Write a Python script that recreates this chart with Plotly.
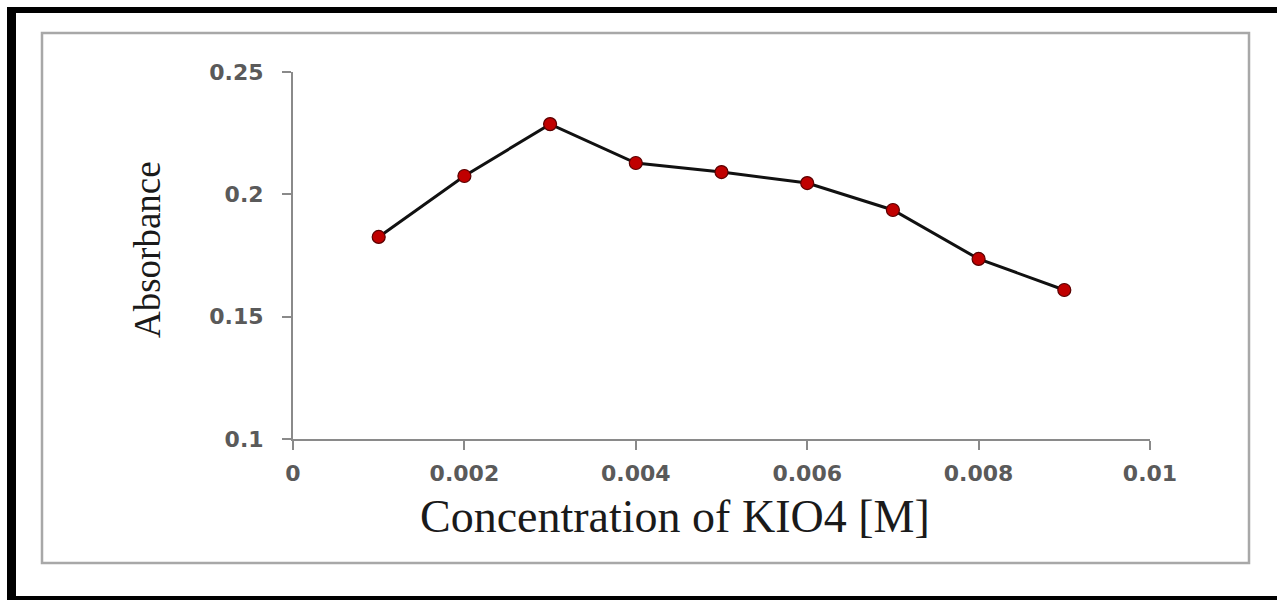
import plotly.graph_objects as go

concentration = [0.001, 0.002, 0.003, 0.004, 0.005, 0.006, 0.007, 0.008, 0.009]
absorbance = [0.1826, 0.2075, 0.2287, 0.2128, 0.2091, 0.2046, 0.1936, 0.1736, 0.1609]
x_ticks = [0, 0.002, 0.004, 0.006, 0.008, 0.01]
x_tick_labels = ["0", "0.002", "0.004", "0.006", "0.008", "0.01"]
y_ticks = [0.1, 0.15, 0.2, 0.25]
y_tick_labels = ["0.1", "0.15", "0.2", "0.25"]
x_title = "Concentration of KIO4 [M]"
y_title = "Absorbance"

W, H = 1277, 600
L, R, T, B = 293, 1150, 72, 439


def px(xp):
    return (xp - L) / (R - L)


def py(yp):
    return (B - yp) / (B - T)


fig = go.Figure()
fig.add_trace(go.Scatter(
    x=concentration, y=absorbance, mode="lines+markers",
    line=dict(color="#111111", width=3),
    marker=dict(size=13, color="#C00000", line=dict(color="#5a0000", width=1.2)),
    showlegend=False, cliponaxis=False,
))

shapes = []
shapes.append(dict(type="rect", xref="paper", yref="paper",
                   x0=px(42), x1=px(1249), y0=py(563), y1=py(33),
                   line=dict(color="#a8a8a8", width=2.5), layer="below"))
for (x0, y0, x1, y1) in [(7, 7, 1277, 13), (7, 7, 16, 600), (7, 596, 1277, 600)]:
    shapes.append(dict(type="rect", xref="paper", yref="paper",
                       x0=px(x0), x1=px(x1), y0=py(y1), y1=py(y0),
                       line=dict(width=0), fillcolor="#000000", layer="above"))

annotations = [
    dict(text=x_title, xref="paper", yref="paper", x=px(675), y=py(516),
         xanchor="center", yanchor="middle", showarrow=False,
         font=dict(family="Liberation Serif", size=46, color="#1a1a1a")),
    dict(text=y_title, xref="paper", yref="paper", x=px(148), y=py(250),
         xanchor="center", yanchor="middle", showarrow=False, textangle=-90,
         font=dict(family="Liberation Serif", size=37, color="#1a1a1a")),
]

tickfont = dict(family="DejaVu Sans", size=22, color="#5a5a5a", weight="bold")

fig.update_layout(
    width=W, height=H,
    margin=dict(l=L, r=W - R, t=T, b=H - B, pad=0),
    paper_bgcolor="white", plot_bgcolor="white",
    shapes=shapes, annotations=annotations,
    xaxis=dict(
        range=[0, 0.01], tickvals=x_ticks, ticktext=x_tick_labels,
        showgrid=False, zeroline=False, showline=True, linecolor="#8a8a8a", linewidth=2,
        ticks="outside", ticklen=9, tickwidth=2, tickcolor="#8a8a8a",
        tickfont=tickfont, ticklabelstandoff=5,
    ),
    yaxis=dict(
        range=[0.1, 0.25], tickvals=y_ticks, ticktext=y_tick_labels,
        showgrid=False, zeroline=False, showline=True, linecolor="#8a8a8a", linewidth=2,
        ticks="outside", ticklen=9, tickwidth=2, tickcolor="#8a8a8a",
        tickfont=tickfont, ticklabelstandoff=14,
    ),
)

fig.write_html("out.html")
